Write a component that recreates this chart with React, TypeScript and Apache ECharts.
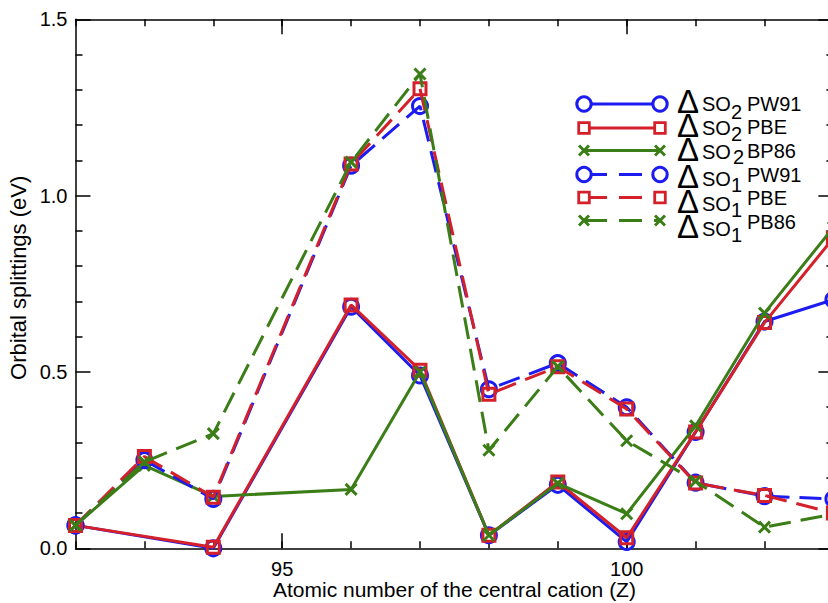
import React, { useEffect, useRef } from "react";
import * as echarts from "echarts";

// ---------- data ----------
const Z_ALL = [92, 93, 94, 96, 97, 98, 99, 100, 101, 102, 103];
const Z_SO2 = [92, 94, 96, 97, 98, 99, 100, 101, 102, 103];

const SO2_PW91 = [0.065, 0.0, 0.685, 0.49, 0.037, 0.18, 0.018, 0.33, 0.643, 0.705];
const SO2_PBE = [0.065, 0.003, 0.69, 0.505, 0.037, 0.188, 0.03, 0.33, 0.64, 0.88];
const SO2_BP86 = [0.065, 0.235, 0.147, 0.167, 0.5, 0.037, 0.184, 0.098, 0.347, 0.667, 0.91];
const SO1_PW91 = [0.065, 0.25, 0.14, 1.085, 1.254, 0.451, 0.525, 0.4, 0.186, 0.148, 0.14];
const SO1_PBE = [0.065, 0.26, 0.145, 1.09, 1.303, 0.437, 0.515, 0.395, 0.185, 0.15, 0.1];
const SO1_PB86 = [0.065, 0.245, 0.325, 1.095, 1.345, 0.278, 0.515, 0.305, 0.19, 0.06, 0.097];

const X_MIN = 92;
const X_MAX = 103;
const X_MAJOR = [95, 100];
const Y_TICK_VALUES = [0, 0.5, 1.0, 1.5];
const Y_TICK_LABELS = ["0.0", "0.5", "1.0", "1.5"];

const X_NAME = "Atomic number of the central cation (Z)";
const Y_NAME = "Orbital splittings (eV)";

const LEGEND_SUB = ["2", "2", "2", "1", "1", "1"];
const LEGEND_METHOD = ["PW91", "PBE", "BP86", "PW91", "PBE", "PB86"];

// ---------- styles ----------
const FONT = "'Liberation Sans', Arial, Helvetica, sans-serif";
const BLUE = "#1c1cf0";
const RED = "#d4202a";
const GREEN = "#3b7d17";
const X_SYMBOL = "path://M0,0L10,10M10,0L0,10";
const DASH = [22, 10];

type Kind = "circle" | "rect" | "x";

const SERIES_DEF: { name: string; xs: number[]; ys: number[]; color: string; kind: Kind; dashed: boolean }[] = [
  { name: "ΔSO2 PW91", xs: Z_SO2, ys: SO2_PW91, color: BLUE, kind: "circle", dashed: false },
  { name: "ΔSO2 PBE", xs: Z_SO2, ys: SO2_PBE, color: RED, kind: "rect", dashed: false },
  { name: "ΔSO2 BP86", xs: Z_ALL, ys: SO2_BP86, color: GREEN, kind: "x", dashed: false },
  { name: "ΔSO1 PW91", xs: Z_ALL, ys: SO1_PW91, color: BLUE, kind: "circle", dashed: true },
  { name: "ΔSO1 PBE", xs: Z_ALL, ys: SO1_PBE, color: RED, kind: "rect", dashed: true },
  { name: "ΔSO1 PB86", xs: Z_ALL, ys: SO1_PB86, color: GREEN, kind: "x", dashed: true },
];

function symbolOf(kind: Kind) {
  if (kind === "circle") return { symbol: "circle", symbolSize: 15 };
  if (kind === "rect") return { symbol: "rect", symbolSize: 12 };
  return { symbol: X_SYMBOL, symbolSize: 11 };
}

// legend layout (pixels)
const LEG_ROW_Y = [104, 128, 150.5, 174.5, 197.5, 220.5];
const LEG_DELTA_Y = [101.5, 125.5, 149.5, 176, 201, 226.5];
const LEG_SO_Y = [104, 128, 152, 178.5, 203.5, 229];
const LEG_SUB_Y = [112, 134, 156.5, 184.5, 209.5, 234.5];
const LEG_METH_Y = [104, 127, 150.5, 174.5, 198, 221.5];
const LEG_X1 = 584;
const LEG_X2 = 660;

function legendGraphics() {
  const els: any[] = [];
  SERIES_DEF.forEach((s, i) => {
    const y = LEG_ROW_Y[i];
    els.push({
      type: "line",
      shape: { x1: LEG_X1, y1: y, x2: LEG_X2, y2: y },
      style: { stroke: s.color, lineWidth: 3, lineDash: s.dashed ? [23, 12] : null },
      silent: true,
    });
    [LEG_X1, LEG_X2].forEach((cx) => {
      if (s.kind === "circle") {
        els.push({ type: "circle", shape: { cx, cy: y, r: 7.2 }, style: { fill: "#fff", stroke: s.color, lineWidth: 3 }, silent: true });
      } else if (s.kind === "rect") {
        els.push({ type: "rect", shape: { x: cx - 5.3, y: y - 5.3, width: 10.6, height: 10.6 }, style: { fill: "#fff", stroke: s.color, lineWidth: 2.8 }, silent: true });
      } else {
        els.push({ type: "line", shape: { x1: cx - 5, y1: y - 5, x2: cx + 5, y2: y + 5 }, style: { stroke: s.color, lineWidth: 3 }, silent: true });
        els.push({ type: "line", shape: { x1: cx - 5, y1: y + 5, x2: cx + 5, y2: y - 5 }, style: { stroke: s.color, lineWidth: 3 }, silent: true });
      }
    });
    const txt = (text: string, x: number, yy: number, size: number, lh: number) => ({
      type: "text",
      x,
      y: yy,
      silent: true,
      style: { text, fontSize: size, lineHeight: lh, fontFamily: FONT, fill: "#000", align: "left", verticalAlign: "middle" },
    });
    els.push(txt("Δ", 677, LEG_DELTA_Y[i], 33, 20));
    els.push(txt("SO", 702, LEG_SO_Y[i], 20, 15));
    els.push(txt(LEGEND_SUB[i], i === 2 ? 733 : 731, LEG_SUB_Y[i], 20, 15));
    els.push(txt(LEGEND_METHOD[i], 747, LEG_METH_Y[i], 20, 15));
  });
  return els;
}

const AXIS_LINE_STYLE = { color: "#000", width: 1.5 };

function buildOption() {
  const series = SERIES_DEF.map((s, i) => ({
    name: s.name,
    type: "line",
    xAxisIndex: 0,
    yAxisIndex: 0,
    data: s.xs.map((x, k) => [x, s.ys[k]]),
    ...symbolOf(s.kind),
    showSymbol: true,
    showAllSymbol: true,
    lineStyle: { color: s.color, width: 3, type: s.dashed ? DASH : "solid" },
    itemStyle: { color: "rgba(0,0,0,0)", borderColor: s.color, borderWidth: 3 },
    emphasis: { disabled: true },
    silent: true,
    z: 2 + i,
  }));

  const majorX = (position: "bottom" | "top", labels: boolean) => ({
    type: "value",
    position,
    min: X_MIN,
    max: X_MAX,
    axisLine: { show: true, onZero: false, lineStyle: AXIS_LINE_STYLE },
    axisTick: { show: true, inside: true, length: 15, customValues: X_MAJOR, lineStyle: AXIS_LINE_STYLE },
    axisLabel: labels
      ? { show: true, customValues: X_MAJOR, fontSize: 20, color: "#000", fontFamily: FONT, margin: 11 }
      : { show: false },
    splitLine: { show: false },
    ...(labels
      ? {
          name: X_NAME,
          nameLocation: "middle",
          nameGap: 33,
          nameMoveOverlap: false,
          nameTextStyle: { fontSize: 21, lineHeight: 17, color: "#000", fontFamily: FONT },
        }
      : {}),
  });
  const minorX = (position: "bottom" | "top") => ({
    type: "value",
    position,
    min: X_MIN,
    max: X_MAX,
    interval: 1,
    axisLine: { show: false, onZero: false },
    axisTick: { show: true, inside: true, length: 7, lineStyle: AXIS_LINE_STYLE },
    axisLabel: { show: false },
    splitLine: { show: false },
  });
  const yAx = (position: "left" | "right", labels: boolean) => ({
    type: "value",
    position,
    min: 0,
    max: 1.5,
    interval: 0.5,
    axisLine: { show: true, onZero: false, lineStyle: AXIS_LINE_STYLE },
    axisTick: { show: true, inside: true, length: 15, lineStyle: AXIS_LINE_STYLE },
    minorTick: { show: true, splitNumber: 5, length: 7, lineStyle: AXIS_LINE_STYLE },
    axisLabel: labels
      ? {
          show: true,
          fontSize: 20,
          color: "#000",
          fontFamily: FONT,
          margin: 8,
          formatter: (v: number) => {
            const k = Y_TICK_VALUES.findIndex((t) => Math.abs(t - v) < 1e-9);
            return k >= 0 ? Y_TICK_LABELS[k] : "";
          },
        }
      : { show: false },
    splitLine: { show: false },
    minorSplitLine: { show: false },
    ...(labels
      ? {
          name: Y_NAME,
          nameLocation: "middle",
          nameGap: 46.5,
          nameRotate: 90,
          nameMoveOverlap: false,
          nameTextStyle: { fontSize: 22, color: "#000", fontFamily: FONT, padding: [0, 0, 0, 12] },
        }
      : {}),
  });

  return {
    animation: false,
    backgroundColor: "#fff",
    grid: { left: 75.5, right: 6.6, top: 19.3, bottom: 54.7, containLabel: false, outerBoundsMode: "none" },
    xAxis: [majorX("bottom", true), minorX("bottom"), majorX("top", false), minorX("top")],
    yAxis: [yAx("left", true), yAx("right", false)],
    series,
    graphic: { elements: legendGraphics() },
  };
}

export default function App() {
  const ref = useRef<HTMLDivElement>(null);
  useEffect(() => {
    if (!ref.current) return;
    const chart = echarts.init(ref.current, null, { renderer: "svg" });
    chart.setOption(buildOption() as any);
    return () => chart.dispose();
  }, []);
  return (
    <div
      style={{
        position: "fixed",
        left: 0,
        top: 0,
        width: 828,
        height: 603,
        overflow: "hidden",
        background: "#fff",
      }}
    >
      <div ref={ref} style={{ width: 840, height: 603 }} />
    </div>
  );
}
